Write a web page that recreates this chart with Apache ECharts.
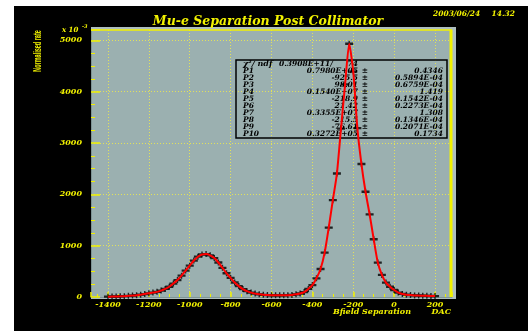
<!DOCTYPE html>
<html>
<head>
<meta charset="utf-8">
<script src="https://cdn.jsdelivr.net/npm/echarts@6/dist/echarts.min.js"></script>
<style>
html,body{margin:0;padding:0;background:#fff;}
#bg{position:absolute;left:14px;top:6px;width:514px;height:325px;background:#000;}
#chart{position:absolute;left:0;top:0;width:528px;height:331px;}
</style>
</head>
<body>
<div id="bg"></div>
<div id="chart"></div>
<script>
// Bin centres (Bfield Separation, DAC)
const binCenters = [-1400,-1380,-1360,-1340,-1320,-1300,-1280,-1260,-1240,-1220,-1200,-1180,-1160,-1140,-1120,-1100,-1080,-1060,-1040,-1020,
  -1000,-980,-960,-940,-920,-900,-880,-860,-840,-820,-800,-780,-760,-740,-720,-700,-680,-660,-640,-620,
  -600,-580,-560,-540,-520,-500,-480,-460,-440,-420,-400,-380,-360,-340,-320,-300,-280,-260,-240,-220,
  -200,-180,-160,-140,-120,-100,-80,-60,-40,-20,0,20,40,60,80,100,120,140,160,180,200];
// Normalised rate (x 10^-3)
const rateValues = [6,8,10,13,17,22,28,35,45,57,72,86,100,125,158,200,262,330,415,515,
  610,710,785,828,836,812,758,672,568,462,372,282,212,155,114,86,66,52,43,37,
  34,32,32,33,36,41,52,68,95,158,232,364,545,865,1350,1885,2405,3280,4140,4932,
  4390,3290,2590,2050,1610,1125,670,430,280,200,136,86,60,46,37,31,27,24,22,20,18];
// Fit results table
const statNames = ['P1','P2','P3','P4','P5','P6','P7','P8','P9','P10'];
const statValues = ['0.7980E+05','-925.5','98.01','0.1540E+07','-218.9','21.42','0.3355E+07','-215.5','-76.61','0.3272E+05'];
const statErrors = ['0.4346','0.5894E-04','0.6759E-04','1.419','0.1542E-04','0.2273E-04','1.308','0.1346E-04','0.2071E-04','0.1734'];
const chiText = '0.3908E+11/';
const ndfText = '74';

const YEL = '#f2f200';
const GRIDC = '#e2e25a';
const FONT = '"DejaVu Serif"';
const pts = binCenters.map((x, i) => [x, rateValues[i]]);

const chart = echarts.init(document.getElementById('chart'));

const graphics = [
  {type:'rect', z:-10, shape:{x:91, y:27, width:365, height:272}, style:{fill:'#aebebe'}},
  {type:'rect', z:-9, shape:{x:91, y:30, width:361, height:267}, style:{fill:'#9bb0b0'}},
  {type:'line', z:5, shape:{x1:91, y1:30, x2:452, y2:30}, style:{stroke:YEL, lineWidth:1.5}},
  {type:'line', z:5, shape:{x1:451, y1:30, x2:451, y2:297}, style:{stroke:YEL, lineWidth:3}},
  {type:'text', z:5, style:{text:'Mu-e Separation Post Collimator', x:268, y:22, fill:YEL,
    font:'italic bold 12.5px ' + FONT, align:'center', verticalAlign:'middle', textAlign:'center', textVerticalAlign:'middle'}},
  {type:'text', z:5, style:{text:'2003/06/24', x:433, y:14, fill:YEL,
    font:'italic bold 7.5px ' + FONT, align:'left', verticalAlign:'middle', textAlign:'left', textVerticalAlign:'middle'}},
  {type:'text', z:5, style:{text:'14.32', x:515, y:14, fill:YEL,
    font:'italic bold 7.5px ' + FONT, align:'right', verticalAlign:'middle', textAlign:'right', textVerticalAlign:'middle'}},
  {type:'text', z:5, style:{text:'x 10', x:62, y:30, fill:YEL,
    font:'italic bold 7px ' + FONT, align:'left', verticalAlign:'middle', textAlign:'left', textVerticalAlign:'middle'}},
  {type:'text', z:5, style:{text:'-3', x:82, y:27, fill:YEL,
    font:'italic bold 5px ' + FONT, align:'left', verticalAlign:'middle', textAlign:'left', textVerticalAlign:'middle'}},
  {type:'text', z:5, x:38, y:51, rotation:Math.PI/2, scaleX:0.5, style:{text:'Normalised rate', x:0, y:0, fill:YEL,
    font:'bold 11px "Liberation Sans"', align:'center', verticalAlign:'middle', textAlign:'center', textVerticalAlign:'middle'}},
  {type:'text', z:5, style:{text:'Bfield Separation', x:333, y:312, fill:YEL,
    font:'italic bold 8px ' + FONT, align:'left', verticalAlign:'middle', textAlign:'left', textVerticalAlign:'middle'}},
  {type:'text', z:5, style:{text:'DAC', x:451, y:312, fill:YEL,
    font:'italic bold 8px ' + FONT, align:'right', verticalAlign:'middle', textAlign:'right', textVerticalAlign:'middle'}},
  {type:'rect', z:1, shape:{x:236, y:60, width:211, height:78}, style:{fill:'none', stroke:'#000', lineWidth:1.5}},
  {type:'text', z:1, style:{text:'\u03c7\u00b2/ ndf', x:243, y:64, fill:'#000',
    font:'italic bold 8px ' + FONT, align:'left', verticalAlign:'middle', textAlign:'left', textVerticalAlign:'middle'}},
  {type:'text', z:1, style:{text:chiText, x:279, y:64, fill:'#000',
    font:'italic bold 7.5px ' + FONT, align:'left', verticalAlign:'middle', textAlign:'left', textVerticalAlign:'middle'}},
  {type:'text', z:1, style:{text:ndfText, x:358, y:64, fill:'#000',
    font:'italic bold 7.5px ' + FONT, align:'right', verticalAlign:'middle', textAlign:'right', textVerticalAlign:'middle'}}
];
statNames.forEach((n, i) => {
  const y = 71 + i * 7;
  const f = 'italic bold 7.5px ' + FONT;
  graphics.push({type:'text', z:1, style:{text:n, x:243, y:y, fill:'#000', font:f, align:'left', verticalAlign:'middle', textAlign:'left', textVerticalAlign:'middle'}});
  graphics.push({type:'text', z:1, style:{text:statValues[i], x:358, y:y, fill:'#000', font:f, align:'right', verticalAlign:'middle', textAlign:'right', textVerticalAlign:'middle'}});
  graphics.push({type:'text', z:1, style:{text:'\u00b1', x:365, y:y, fill:'#000', font:f, align:'center', verticalAlign:'middle', textAlign:'center', textVerticalAlign:'middle'}});
  graphics.push({type:'text', z:1, style:{text:statErrors[i], x:443, y:y, fill:'#000', font:f, align:'right', verticalAlign:'middle', textAlign:'right', textVerticalAlign:'middle'}});
});

const labelStyle = {color:YEL, fontFamily:'DejaVu Serif', fontStyle:'italic', fontWeight:'bold', fontSize:8,
  formatter: v => String(Math.round(v))};

chart.setOption({
  animation:false,
  backgroundColor:'transparent',
  grid:{left:91, right:76, top:30, bottom:34, containLabel:false},
  xAxis:{type:'value', min:-1483, max:283, minInterval:200, maxInterval:200, splitNumber:9,
    axisLine:{show:true, onZero:false, lineStyle:{color:'#7f9494', width:1}},
    axisTick:{show:true, inside:true, length:5, lineStyle:{color:YEL, width:1.5}},
    minorTick:{show:true, splitNumber:4, length:3, lineStyle:{color:YEL, width:1}},
    axisLabel:Object.assign({margin:4, showMinLabel:false, showMaxLabel:false}, labelStyle),
    splitLine:{show:true, showMinLine:false, showMaxLine:false, lineStyle:{color:GRIDC, width:1, type:[1,2]}}
  },
  yAxis:{type:'value', min:0, max:5200, interval:1000,
    axisLine:{show:true, onZero:false, lineStyle:{color:'#7f9494', width:1}},
    axisTick:{show:true, inside:true, length:9, lineStyle:{color:YEL, width:1.5}},
    minorTick:{show:true, splitNumber:4, length:4, lineStyle:{color:YEL, width:1}},
    axisLabel:Object.assign({margin:9, showMaxLabel:false}, labelStyle),
    splitLine:{show:true, showMinLine:false, showMaxLine:false, lineStyle:{color:GRIDC, width:1, type:[1,2]}}
  },
  graphic:graphics,
  series:[
    {type:'scatter', data:pts, z:2, symbol:'path://M0,2H8V4.5H0Z M3.3,0H4.7V6.5H3.3Z', symbolSize:[8,6],
      itemStyle:{color:'#000'}, silent:true},
    {type:'line', data:pts, z:3, showSymbol:false, smooth:0.2, lineStyle:{color:'#ff0000', width:2}, silent:true}
  ]
});
</script>
</body>
</html>
